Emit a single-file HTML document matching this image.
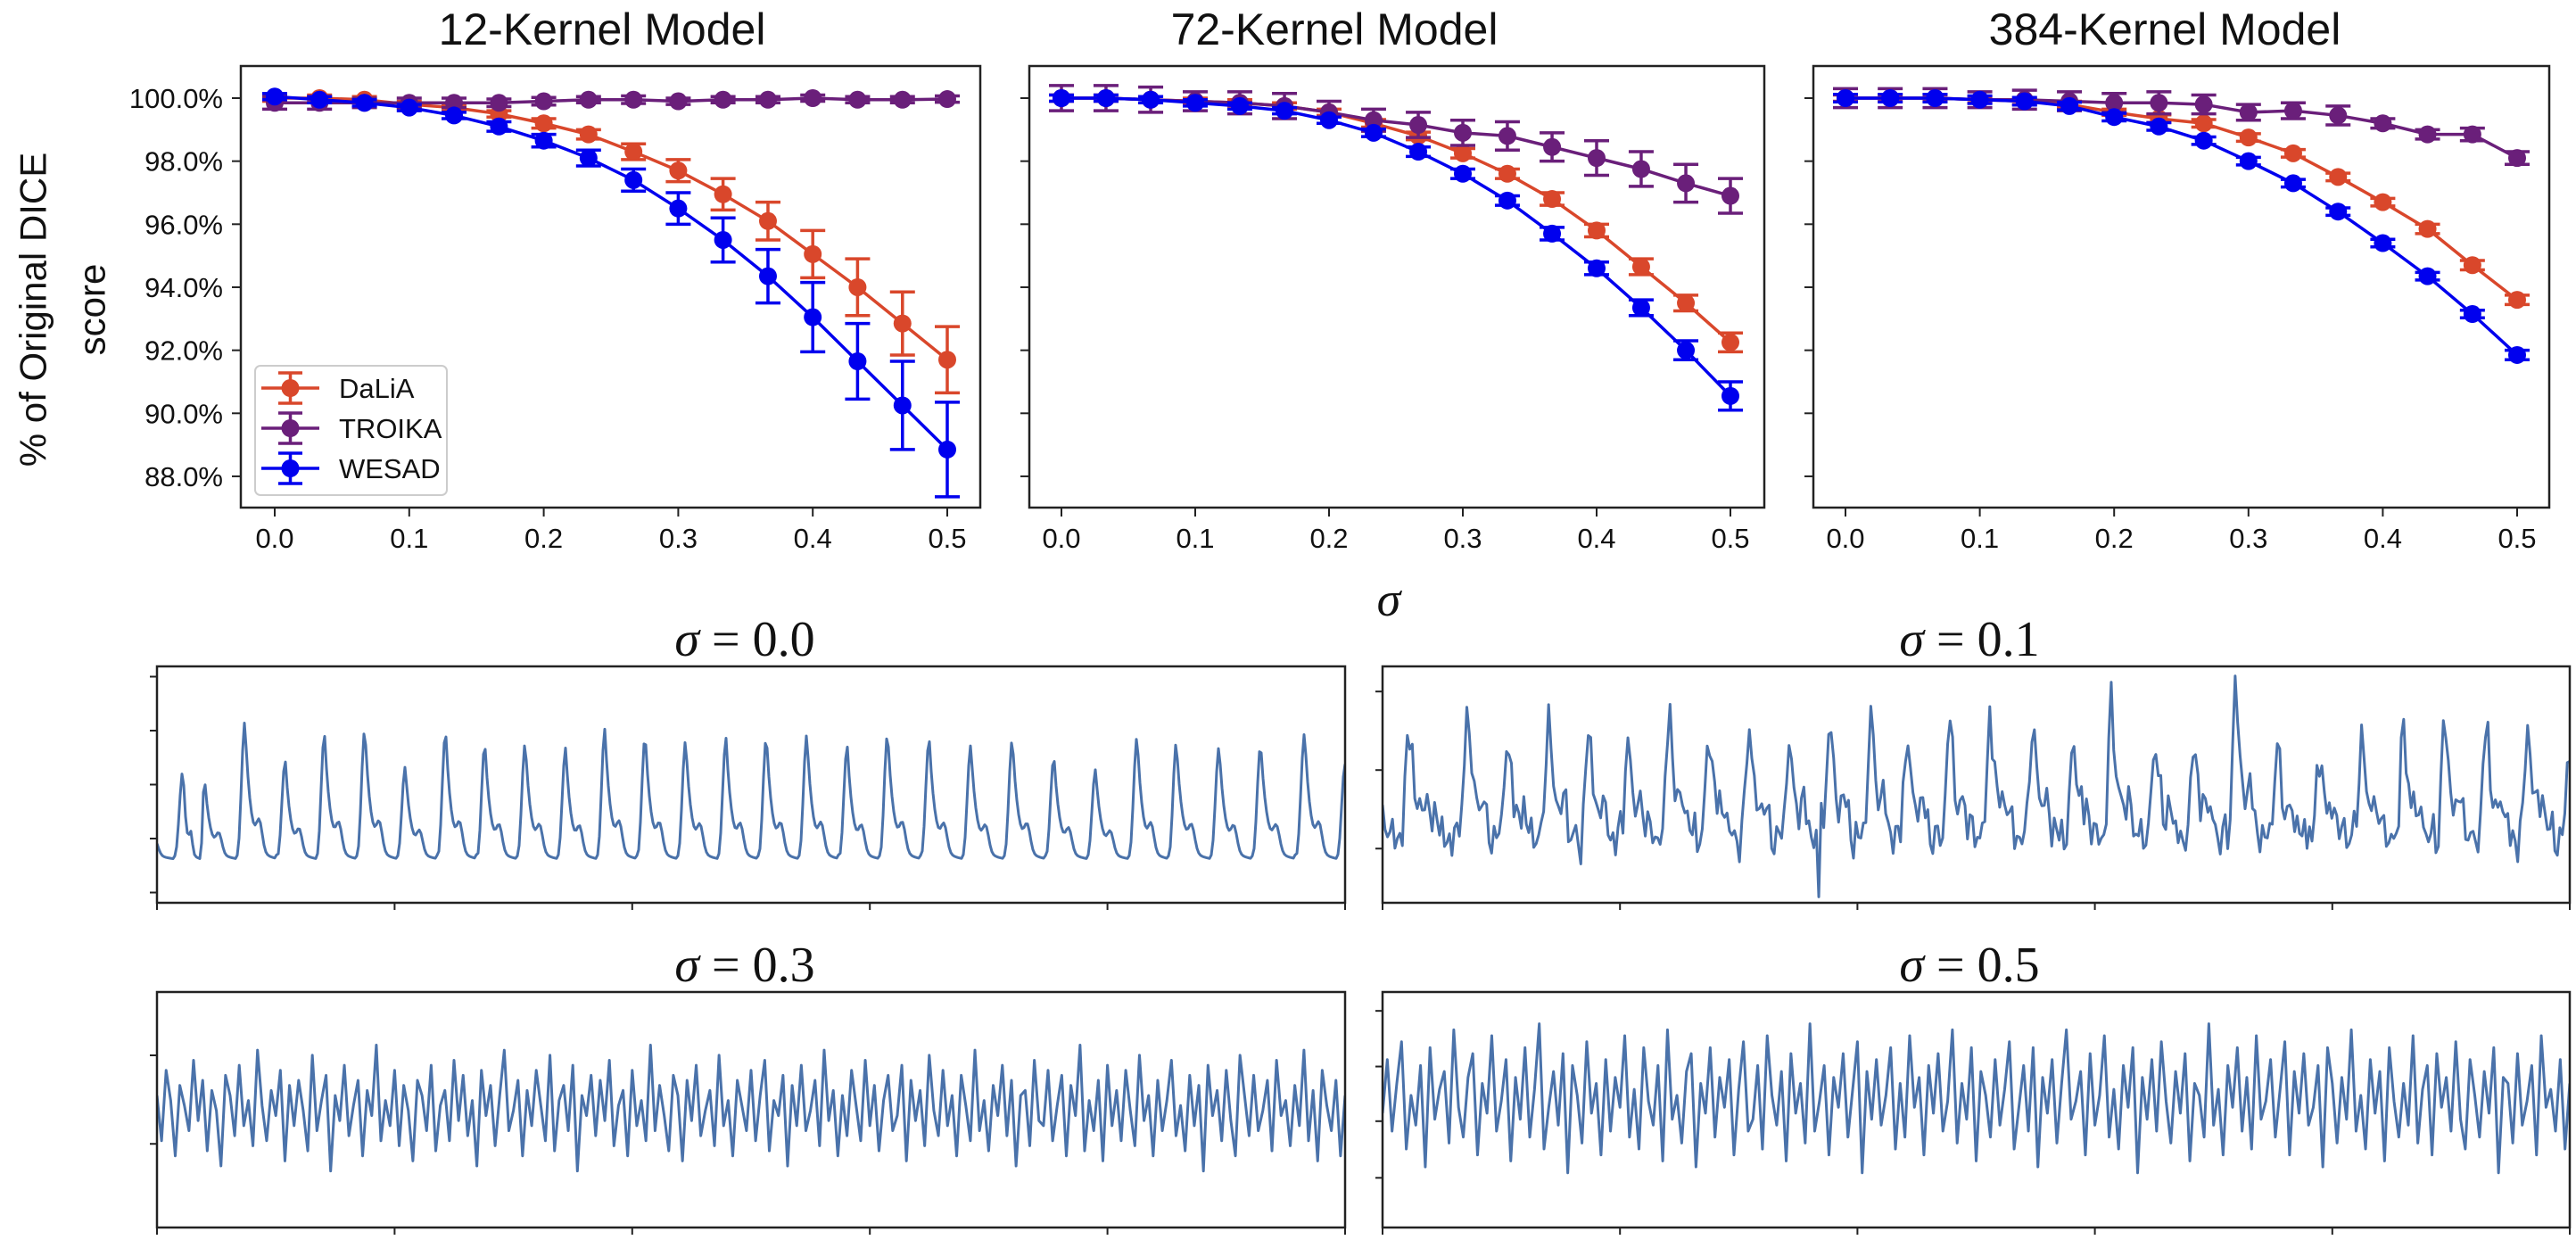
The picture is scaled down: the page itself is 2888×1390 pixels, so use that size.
<!DOCTYPE html>
<html><head><meta charset="utf-8">
<style>
html,body{margin:0;padding:0;background:#fff;}
svg{display:block;}
text{font-family:"Liberation Sans","DejaVu Sans",sans-serif;fill:#111;}
text.serif{font-family:"Liberation Serif","DejaVu Serif",serif;}
</style></head>
<body>
<svg id="chart" width="2888" height="1390" viewBox="0 0 2888 1390" xmlns="http://www.w3.org/2000/svg"></svg>
<script>
// ---------- Top charts data ----------
const sigmas = [0,0.0333,0.0667,0.1,0.1333,0.1667,0.2,0.2333,0.2667,0.3,0.3333,0.3667,0.4,0.4333,0.4667,0.5];
const xTicks = [0,0.1,0.2,0.3,0.4,0.5];
const xTickLabels = ["0.0","0.1","0.2","0.3","0.4","0.5"];
const yTicks = [100,98,96,94,92,90,88];
const yTickLabels = ["100.0%","98.0%","96.0%","94.0%","92.0%","90.0%","88.0%"];
const modelTitles = ["12-Kernel Model","72-Kernel Model","384-Kernel Model"];

const dalia12 = [100,100,99.95,99.8,99.7,99.5,99.2,98.85,98.3,97.7,96.95,96.1,95.05,94,92.85,91.7];
const daliaErr12 = [0.1,0.1,0.1,0.1,0.1,0.1,0.15,0.15,0.25,0.35,0.5,0.6,0.75,0.9,1.0,1.05];
const troika12 = [99.85,99.85,99.85,99.85,99.85,99.85,99.9,99.95,99.95,99.9,99.95,99.95,100,99.95,99.95,99.97];
const troikaErr12 = [0.2,0.2,0.15,0.15,0.15,0.12,0.12,0.1,0.12,0.1,0.1,0.1,0.1,0.1,0.1,0.1];
const wesad12 = [100.05,99.95,99.85,99.7,99.45,99.1,98.65,98.1,97.4,96.5,95.5,94.35,93.05,91.65,90.25,88.85];
const wesadErr12 = [0.1,0.1,0.1,0.1,0.1,0.15,0.2,0.25,0.35,0.5,0.7,0.85,1.1,1.2,1.4,1.5];

const dalia72 = [100,100,99.95,99.9,99.85,99.75,99.55,99.2,98.8,98.25,97.6,96.8,95.8,94.65,93.5,92.25];
const daliaErr72 = [0.1,0.1,0.1,0.1,0.1,0.1,0.1,0.12,0.12,0.15,0.15,0.2,0.2,0.25,0.25,0.3];
const troika72 = [100,100,99.95,99.9,99.85,99.75,99.55,99.3,99.15,98.9,98.8,98.45,98.1,97.75,97.3,96.9];
const troikaErr72 = [0.4,0.4,0.4,0.3,0.35,0.4,0.35,0.35,0.4,0.4,0.45,0.45,0.55,0.55,0.6,0.55];
const wesad72 = [100,100,99.95,99.85,99.75,99.6,99.3,98.9,98.3,97.6,96.75,95.7,94.6,93.35,92,90.55];
const wesadErr72 = [0.1,0.1,0.1,0.1,0.1,0.1,0.1,0.12,0.15,0.15,0.15,0.2,0.2,0.25,0.3,0.45];

const dalia384 = [100,100,100,99.95,99.9,99.8,99.55,99.35,99.2,98.75,98.25,97.5,96.7,95.85,94.7,93.6];
const daliaErr384 = [0.1,0.1,0.1,0.1,0.1,0.1,0.1,0.12,0.12,0.12,0.12,0.12,0.12,0.15,0.15,0.15];
const troika384 = [100,100,100,99.95,99.95,99.9,99.85,99.85,99.8,99.55,99.6,99.45,99.2,98.85,98.85,98.1];
const troikaErr384 = [0.3,0.3,0.3,0.25,0.3,0.3,0.3,0.35,0.3,0.25,0.25,0.3,0.15,0.15,0.2,0.2];
const wesad384 = [100,100,100,99.95,99.9,99.75,99.4,99.1,98.65,98,97.3,96.4,95.4,94.35,93.15,91.85];
const wesadErr384 = [0.12,0.12,0.12,0.12,0.12,0.12,0.12,0.12,0.12,0.12,0.12,0.12,0.12,0.12,0.12,0.15];

const seriesNames = ["DaLiA","TROIKA","WESAD"];
const seriesColors = ["#d9472b","#6a1f7a","#0000ee"];

// ---------- Signal data ----------
const sigTitles = ["0.0","0.1","0.3","0.5"];
const beatTimes0 = [-0.15,0.22,0.40,0.74,1.08,1.41,1.75,2.09,2.43,2.76,3.10,3.44,3.77,4.11,4.45,4.79,5.13,5.47,5.81,6.15,6.50,6.85,7.20,7.55,7.90,8.25,8.58,8.94,9.29,9.66,10.0,10.35];
const beatAmps0 = [-0.4,0.28,0.15,1.17,0.46,0.96,1.04,0.33,1.0,0.77,0.78,0.68,1.03,0.92,0.82,0.86,0.9,0.93,0.73,0.96,0.86,0.73,0.85,0.52,0.28,0.9,0.79,0.71,0.75,0.96,0.38,0.8];
const beatTimes1 = [-0.12,0.22,0.73,1.05,1.40,1.74,2.07,2.42,2.75,3.09,3.43,3.77,4.12,4.42,4.78,5.12,5.48,5.82,6.14,6.51,6.84,7.19,7.54,7.89,8.25,8.60,8.95,9.30,9.65,10.0];
const beatAmps1 = [-0.2,0.47,0.67,0.42,0.7,0.53,0.42,0.82,0.56,0.59,0.42,0.67,0.82,0.53,0.65,0.79,0.67,0.42,0.9,0.36,0.45,1.13,0.3,0.25,0.45,0.53,0.67,0.59,0.59,0.2];
const noise1 = [2,-1,3,0,-3,1,4,-2,0,2,-4,1,3,-1,-3,2,0,4,-2,1,-1,3,-3,0,2,-2,4,1,-4,0,3,-1,2,-3,1,0,-2,4,-1,2,-5,1,3,0,-2,2,-1,-3,4,0,1,-2,3,-4,2,0,-1,3,1,-3,2,-2,0,4,-1,1,-3,2,3,-2,0,1,-4,3,-1,2,0,-2,4,-3,1,2,-1,0,-3,3,1,-2,-10,0,-1,2,-3,1,3,-4,0,2,-1,1,-2,3,0,-3,2,4,-1,0,-2,1,3,-3,2,-1,0,4,-2,1,-4,3,0,2,-1,-3,1,2,-2,4,0,-1,3,-3,1,0,2,-4,1,3,-2,0,-1,4,1,-3,2,0,-2,3,-1,1,-4,2,0,3,-2,1,-1,4,-3,0,2,1,-2,3,-1,-4,2,0,1,-3,4,-1,2,0,-2,3,1,-3,0,2,-1,4,-2,1,-3,0,3,2,-1,-4,1,2,0,-2,3,-1,4,-3,1,0,2,-2,3,-1,0,-4,2,1,3,-2,0,-1,4,-3,2,1,-2,0,3,-1,1,-3,2,4,-2,0,-1,3,1,-4,2,0,-2,3,1,-1,4,-3,0,2];
const noise3 = [3,-6,8,2,-9,5,1,-4,10,-2,6,-8,4,0,-11,7,3,-5,9,-3,2,-7,12,1,-6,4,-1,8,-10,5,-3,6,0,-8,11,-4,2,7,-12,3,-2,9,-5,1,6,-9,4,-1,13,-6,2,-3,8,-7,5,0,-10,6,3,-4,9,-8,1,4,-6,10,-2,7,-5,2,-11,8,-1,5,-7,3,12,-4,0,6,-9,4,-3,8,1,-6,11,-8,2,5,-4,9,-12,3,-1,7,-5,6,-2,10,-7,1,4,-9,8,-3,2,-6,13,-4,5,-1,-8,7,3,-10,6,-2,9,-5,0,4,-7,11,-3,2,-9,6,1,-4,8,-6,3,10,-8,2,-1,7,-11,5,-3,9,-4,0,6,-7,12,-2,4,-9,3,-5,8,1,-6,10,-3,5,-8,2,7,-4,-1,9,-10,6,-2,4,-7,11,0,-5,8,-3,3,-9,7,1,-6,12,-4,2,-8,5,-1,9,-5,6,-11,3,4,-7,10,-2,-3,8,-6,1,7,-9,5,-1,13,-8,2,-4,6,-10,9,-3,4,-6,8,0,-7,11,-2,3,-9,6,-4,2,10,-5,1,-8,7,-3,5,-12,9,-1,4,-6,8,-2,-9,11,3,-5,7,-4,0,6,-8,10,-1,2,-7,5,-3,12,-6,4,-10,8,1,-4,6,-9,3];
const noise5 = [-2,7,-5,3,10,-8,1,-4,6,-11,9,-3,2,5,-7,12,-1,-6,4,8,-9,3,-2,11,-5,0,7,-10,4,-3,9,-6,2,13,-8,-1,5,-4,8,-12,6,1,-7,10,-2,3,-9,7,-5,4,-1,11,-6,2,-8,9,0,-4,6,-10,12,-3,1,-7,5,8,-11,3,-2,9,-6,4,-1,7,-9,2,10,-5,-3,6,-8,11,1,-4,5,-10,8,-2,3,-7,13,-5,0,6,-9,4,-1,8,-6,2,10,-12,5,-3,7,-4,1,9,-8,3,-6,11,-1,4,-9,6,-2,8,-5,0,12,-7,3,-3,9,-10,5,1,-6,7,-4,2,10,-8,-1,6,-5,9,-11,4,-2,7,-7,3,12,-3,0,5,-9,8,-4,1,11,-6,2,-8,6,-1,9,-12,4,-3,7,-5,10,0,-7,5,-2,8,-10,3,1,-6,13,-4,2,-9,6,-1,9,-5,4,-8,11,-3,0,7,-6,2,10,-9,5,-2,8,-4,-1,6,-11,9,3,-7,4,-3,12,-5,1,-8,7,-2,5,-10,9,0,-6,3,-4,11,-7,2,6,-9,8,-1,4,-5,10,-3,-8,7,1,-6,5,-2,9,-12,4,3,-7,8,-4,0,6,-9,11,-1,2,-5,7,-8,3];

const NS = "http://www.w3.org/2000/svg";
const svg = document.getElementById('chart');
function el(tag, attrs, parent){
  const e = document.createElementNS(NS, tag);
  for (const k in attrs) e.setAttribute(k, attrs[k]);
  (parent||svg).appendChild(e);
  return e;
}

// ---------- Top panels ----------
const panels = [
  {l:270, r:1099, x0:308, x5:1062, title:675},
  {l:1154, r:1978, x0:1190, x5:1940, title:1496},
  {l:2033, r:2858, x0:2069, x5:2822, title:2427}
];
const pTop = 74, pBot = 569;
const modelData = [
  [[dalia12,daliaErr12],[troika12,troikaErr12],[wesad12,wesadErr12]],
  [[dalia72,daliaErr72],[troika72,troikaErr72],[wesad72,wesadErr72]],
  [[dalia384,daliaErr384],[troika384,troikaErr384],[wesad384,wesadErr384]]
];
function yScale(v){ return 110 + (100 - v) * 35.33; }

panels.forEach((p, pi) => {
  const g = el('g', {});
  
  
  const xs = v => p.x0 + v / 0.5 * (p.x5 - p.x0);

  const t = el('text', {x:p.title, y:50, 'text-anchor':'middle', 'font-size':50}, g);
  t.textContent = modelTitles[pi];
  
  

  const frame = el('rect', {x:p.l, y:pTop, width:p.r-p.l, height:pBot-pTop, fill:'#fff', stroke:'#222', 'stroke-width':2.5}, g);
  
  

  yTicks.forEach((tv, i) => {
    const y = yScale(tv);
    const tk = el('line', {x1:p.l-10, x2:p.l, y1:y, y2:y, stroke:'#222', 'stroke-width':2}, g);
    
    
    if (pi === 0) {
      const lb = el('text', {x:p.l-20, y:y+11, 'text-anchor':'end', 'font-size':31, fill:'#333'}, g);
      lb.textContent = yTickLabels[i];
      
      
    }
  });
  xTicks.forEach((tv, i) => {
    const x = xs(tv);
    const tk = el('line', {x1:x, x2:x, y1:pBot, y2:pBot+10, stroke:'#222', 'stroke-width':2}, g);
    
    
    const lb = el('text', {x:x, y:614, 'text-anchor':'middle', 'font-size':31, fill:'#333'}, g);
    lb.textContent = xTickLabels[i];
    
    
  });

  modelData[pi].forEach((sd, si) => {
    const vals = sd[0], errs = sd[1], col = seriesColors[si];
    const sg = el('g', {}, g);
    
    
    const pts = vals.map((v, i) => xs(sigmas[i]) + ',' + yScale(v)).join(' ');
    const ln = el('polyline', {points:pts, fill:'none', stroke:col, 'stroke-width':3.5}, sg);
    
    
    vals.forEach((v, i) => {
      const x = xs(sigmas[i]), yh = yScale(v + errs[i]), yl = yScale(v - errs[i]);
      const eb = el('path', {d:`M${x},${yh}V${yl}M${x-14},${yh}H${x+14}M${x-14},${yl}H${x+14}`, stroke:col, 'stroke-width':3.5, fill:'none'}, sg);
      
      
      const c = el('circle', {cx:x, cy:yScale(v), r:10, fill:col}, sg);
      
      
    });
  });
});

// legend
const lg = el('g', {});


const lbox = el('rect', {x:286, y:410, width:215, height:145, rx:6, fill:'#fff', 'fill-opacity':0.85, stroke:'#ccc', 'stroke-width':2}, lg);


seriesNames.forEach((nm, i) => {
  const y = 435 + i * 45, col = seriesColors[i];
  const eg = el('g', {}, lg);
  
  
  el('path', {d:`M293,${y}H358M325.5,${y-17}V${y+17}M312,${y-17}H339M312,${y+17}H339`, stroke:col, 'stroke-width':3.5, fill:'none'}, eg);
  el('circle', {cx:325.5, cy:y, r:10, fill:col}, eg);
  const tx = el('text', {x:380, y:y+11, 'font-size':31, fill:'#222'}, eg);
  tx.textContent = nm;
});

// y label
const yl1 = el('text', {x:0, y:0, 'text-anchor':'middle', 'dominant-baseline':'central', 'font-size':42, transform:'translate(37,347) rotate(-90)'});
yl1.textContent = '% of Original DICE';


const yl2 = el('text', {x:0, y:0, 'text-anchor':'middle', 'dominant-baseline':'central', 'font-size':42, transform:'translate(103,347) rotate(-90)'});
yl2.textContent = 'score';



const sx = el('text', {x:1557, y:690, 'text-anchor':'middle', 'font-size':54, 'font-style':'italic', 'class':'serif'});
sx.textContent = 'σ';



// ---------- Signal panels ----------
function ppg(t, times, amps, trough){
  let k = 0;
  while (k < times.length - 2 && times[k+1] <= t) k++;
  const t0 = times[k], t1 = times[k+1];
  const d = (t - t0) / (t1 - t0);
  const a0 = amps[k], a1 = amps[k+1];
  if (d >= 0.78) {
    const u = (d - 0.78) / 0.22;
    return trough - 0.12*Math.sin(Math.PI*u)*(1-u) + (a1 - trough) * Math.pow(0.5 - 0.5*Math.cos(Math.PI*u), 1.4);
  }
  return trough + (a0 - trough) * Math.exp(-d*7) + 0.16*(a0 - trough + 0.6)*Math.exp(-Math.pow((d-0.36)/0.1,2)) - 0.1*d;
}
const sigPanels = [
  {l:176, r:1508, t:747, b:1012, min:-2.19, max:2.19, ticks:[-2,-1,0,1,2], tx:835, ty:735},
  {l:1550, r:2881, t:747, b:1012, min:-1.69, max:1.32, ticks:[-1,0,1], tx:2208, ty:735},
  {l:176, r:1508, t:1112, b:1376, min:-14.4, max:14.6, ticks:[-4.1,6.8], tx:835, ty:1100},
  {l:1550, r:2881, t:1112, b:1376, min:-12.7, max:11.0, ticks:[-7.7,-2,3.5,9.1], tx:2208, ty:1100}
];
const sigXTicks = [0,2,4,6,8,10];
const defs = el('defs', {});
sigPanels.forEach((p, pi) => {
  const cp = el('clipPath', {id:'clip' + pi}, defs);
  el('rect', {x:p.l, y:p.t, width:p.r-p.l, height:p.b-p.t}, cp);

  const g = el('g', {});
  
  
  const xs = v => p.l + v / 10 * (p.r - p.l);
  const ys = v => p.b - (v - p.min) / (p.max - p.min) * (p.b - p.t);

  const tt = el('text', {x:p.tx, y:p.ty, 'text-anchor':'middle', 'font-size':56, 'class':'serif'}, g);
  tt.innerHTML = '<tspan font-style="italic">σ</tspan> = ' + sigTitles[pi];
  
  

  let pts = [];
  if (pi === 0) {
    for (let px = 0; px <= p.r - p.l; px += 2) {
      const t = px / (p.r - p.l) * 10;
      pts.push(xs(t) + ',' + ys(ppg(t, beatTimes0, beatAmps0, -1.3)));
    }
  } else if (pi === 1) {
    const n = noise1.length;
    for (let i = 0; i < n * 2; i++) {
      const t = i / (n * 2 - 1) * 10;
      const nz = (i % 2 === 0) ? noise1[i/2] : -0.6 * noise1[(i-1)/2];
      pts.push(xs(t) + ',' + ys(ppg(t, beatTimes1, beatAmps1, -0.8) + nz * 0.075));
    }
  } else {
    const arr = pi === 2 ? noise3 : noise5;
    const sc = pi === 2 ? 0.62 : 0.6;
    arr.forEach((v, i) => pts.push(xs(i / (arr.length - 1) * 10) + ',' + ys(v * sc)));
  }
  const ln = el('polyline', {points:pts.join(' '), fill:'none', stroke:'#4a72aa', 'stroke-width':3, 'stroke-linejoin':'round', 'clip-path':'url(#clip' + pi + ')'}, g);
  
  

  const fr = el('rect', {x:p.l, y:p.t, width:p.r-p.l, height:p.b-p.t, fill:'none', stroke:'#222', 'stroke-width':2.5}, g);
  
  
  p.ticks.forEach(tv => {
    const tk = el('line', {x1:p.l-8, x2:p.l, y1:ys(tv), y2:ys(tv), stroke:'#222', 'stroke-width':2}, g);
    
    
  });
  sigXTicks.forEach(tv => {
    const tk = el('line', {x1:xs(tv), x2:xs(tv), y1:p.b, y2:p.b+8, stroke:'#222', 'stroke-width':2}, g);
    
    
  });
});
</script>
</body></html>
